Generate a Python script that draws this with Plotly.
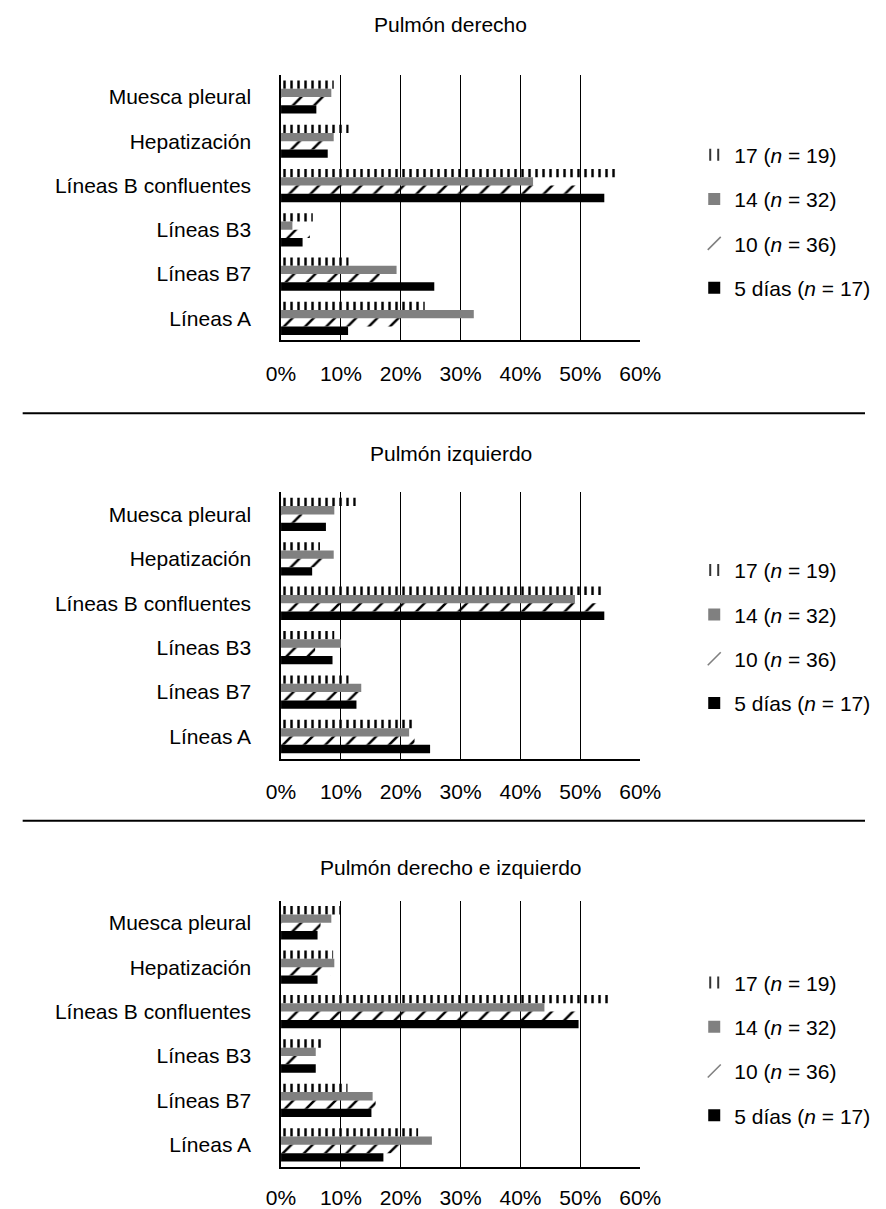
import plotly.graph_objects as go

# ---- data -------------------------------------------------------------
categories = ["Muesca pleural", "Hepatización", "Líneas B confluentes",
              "Líneas B3", "Líneas B7", "Líneas A"]
series_names = ["17 (<i>n</i> = 19)", "14 (<i>n</i> = 32)",
                "10 (<i>n</i> = 36)", "5 días (<i>n</i> = 17)"]
panel_titles = ["Pulmón derecho", "Pulmón izquierdo", "Pulmón derecho e izquierdo"]
tick_vals = [0, 10, 20, 30, 40, 50, 60]
tick_labels = ["0%", "10%", "20%", "30%", "40%", "50%", "60%"]

derecho_17 = [8.8, 11.3, 56.3, 5.3, 11.3, 24.0]
derecho_14 = [8.4, 8.8, 42.1, 1.9, 19.3, 32.2]
derecho_10 = [7.4, 7.8, 50.1, 4.8, 16.5, 21.3]
derecho_5 = [5.9, 7.8, 54.0, 3.6, 25.6, 11.2]

izquierdo_17 = [12.5, 6.5, 53.6, 8.9, 11.3, 22.0]
izquierdo_14 = [8.9, 8.8, 49.1, 10.0, 13.4, 21.4]
izquierdo_10 = [3.6, 7.8, 53.2, 5.7, 13.5, 22.3]
izquierdo_5 = [7.5, 5.2, 54.0, 8.6, 12.6, 24.9]

ambos_17 = [9.9, 8.7, 54.7, 7.3, 11.1, 22.9]
ambos_14 = [8.4, 8.9, 44.0, 5.8, 15.3, 25.2]
ambos_10 = [6.6, 8.3, 49.3, 3.9, 15.8, 20.5]
ambos_5 = [6.1, 6.1, 49.7, 5.8, 15.1, 17.1]

panels = [
    [derecho_17, derecho_14, derecho_10, derecho_5],
    [izquierdo_17, izquierdo_14, izquierdo_10, izquierdo_5],
    [ambos_17, ambos_14, ambos_10, ambos_5],
]

# ---- styling ----------------------------------------------------------
W, H = 886, 1209
FONT = "Liberation Sans, Arial, sans-serif"
FS = 21
x_dom = [277.3 / W, 651.7 / W]
plot_px = [(75, 341), (493, 760), (902, 1169)]
title_px = [25, 454, 869]
legend_px = [222, 638, 1051]
xlabel_standoff = [14, 13, 11]
sep_px = [414, 822]

def marker_for(k):
    if k == 0:
        return dict(color="black", line=dict(width=0),
                    pattern=dict(shape="|", fgcolor="black", size=7,
                                 solidity=0.35, fillmode="replace"))
    if k == 1:
        return dict(color="#808080", line=dict(width=0))
    if k == 2:
        return dict(color="black", line=dict(width=0),
                    pattern=dict(shape="/", fgcolor="black", size=15,
                                 solidity=0.17, fillmode="replace"))
    return dict(color="black", line=dict(width=0))

fig = go.Figure()
layout = dict(width=W, height=H, margin=dict(l=0, r=0, t=0, b=0),
              paper_bgcolor="white", plot_bgcolor="white",
              barmode="group", bargap=0.25, bargroupgap=0,
              font=dict(family=FONT, size=FS, color="black"),
              annotations=[], shapes=[],
              xaxis4=dict(visible=False, domain=[0, 0.01], anchor="y4"),
              yaxis4=dict(visible=False, domain=[0, 0.01], anchor="x4"))

for p, data in enumerate(panels):
    sfx = "" if p == 0 else str(p + 1)
    leg = "legend" + sfx
    for k, vals in enumerate(data):
        fig.add_trace(go.Bar(
            x=vals, y=categories, orientation="h", name=series_names[k],
            marker=marker_for(k), xaxis="x" + sfx, yaxis="y" + sfx,
            legend=leg, legendgroup=f"g{p}_{k}", hoverinfo="x+y+name",
            showlegend=(k in (1, 3)),
        ))
        if k == 0:
            # legend-only entry: two thin vertical bars "| |"
            fig.add_trace(go.Bar(
                x=[None], y=[None], orientation="h", name=series_names[k],
                marker=dict(color="black", line=dict(width=0),
                            pattern=dict(shape="|", fgcolor="black", size=10,
                                         solidity=0.2, fillmode="replace")),
                xaxis="x4", yaxis="y4", legend=leg,
                legendgroup=f"g{p}_{k}", hoverinfo="skip",
            ))
        if k == 2:
            # legend-only entry: a thin grey slash
            fig.add_trace(go.Scatter(
                x=[None], y=[None], mode="markers", name=series_names[k],
                marker=dict(symbol="line-ne", size=13, color="#808080",
                            line=dict(width=1.6, color="#808080")),
                xaxis="x" + sfx, yaxis="y" + sfx, legend=leg,
                legendgroup=f"g{p}_{k}", hoverinfo="skip",
            ))
    top, bot = plot_px[p]
    layout["xaxis" + sfx] = dict(
        domain=x_dom, anchor="y" + sfx, range=[0, 60],
        tickvals=tick_vals, ticktext=tick_labels,
        showgrid=True, gridcolor="black", gridwidth=1,
        showline=True, linecolor="black", linewidth=1.5,
        ticks="", ticklabelstandoff=xlabel_standoff[p], zeroline=False,
        tickfont=dict(size=FS, family=FONT, color="black"),
    )
    layout["yaxis" + sfx] = dict(
        domain=[1 - bot / H, 1 - top / H], anchor="x" + sfx,
        categoryorder="array", categoryarray=categories,
        autorange="reversed", showline=True, linecolor="black",
        linewidth=1.5, ticks="", ticklabelstandoff=24, showgrid=False,
        tickfont=dict(size=FS, family=FONT, color="black"),
    )
    layout[leg] = dict(
        x=708 / W, xanchor="left", y=1 - legend_px[p] / H, yanchor="middle",
        traceorder="grouped", tracegroupgap=14, bgcolor="rgba(0,0,0,0)",
        font=dict(size=FS, family=FONT, color="black"),
    )
    layout["annotations"].append(dict(
        text=panel_titles[p], x=454 / W, y=1 - title_px[p] / H,
        xref="paper", yref="paper", showarrow=False,
        xanchor="center", yanchor="middle",
        font=dict(size=FS, family=FONT, color="black"),
    ))

for yy in sep_px:
    layout["shapes"].append(dict(
        type="line", xref="paper", yref="paper",
        x0=8 / W, x1=1, y0=1 - yy / H, y1=1 - yy / H,
        line=dict(color="black", width=2),
    ))

fig.update_layout(**layout)
fig.write_html(
    "out.html",
    config={"displayModeBar": False},
    post_script="document.body.style.margin='0px';"
                "document.body.style.overflow='hidden';",
)
